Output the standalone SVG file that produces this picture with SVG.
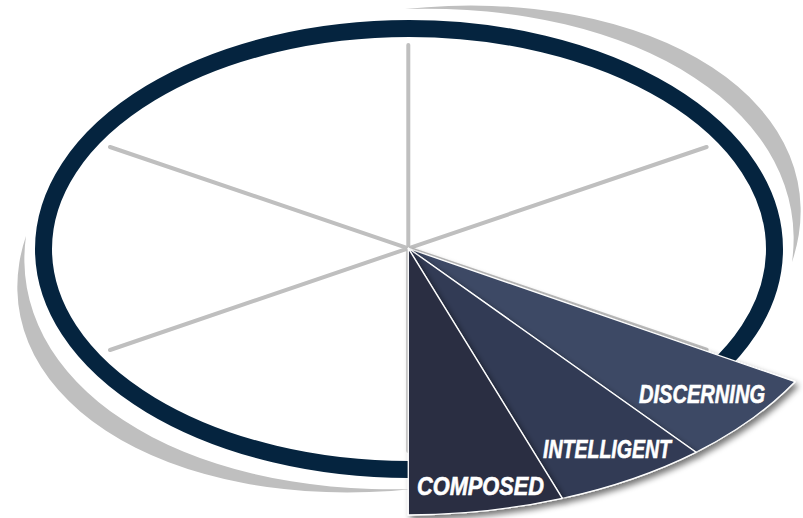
<svg xmlns="http://www.w3.org/2000/svg" width="803" height="518" viewBox="0 0 803 518">
  <defs>
    <style>
      .halo { fill: #BFBFBF; }
      .ring { fill: #FFFFFF; stroke: #05243F; stroke-width: 17; }
      .spoke { stroke: #BFBFBF; stroke-width: 4; stroke-linecap: round; fill: none; }
      .wedge { stroke: #FFFFFF; stroke-width: 1.3; stroke-linejoin: round; filter: url(#drop); }
      .label { font-family: "Liberation Sans", Arial, sans-serif; font-weight: bold; font-style: italic; font-size: 25.5px; fill: #FFFFFF; stroke: #FFFFFF; stroke-width: 0.6; }
    </style>
    <filter id="drop" x="-20%" y="-20%" width="140%" height="140%">
      <feGaussianBlur in="SourceAlpha" stdDeviation="3"/>
      <feOffset dx="3" dy="4" result="blur"/>
      <feComponentTransfer><feFuncA type="linear" slope="0.55"/></feComponentTransfer>
      <feMerge><feMergeNode/><feMergeNode in="SourceGraphic"/></feMerge>
    </filter>
  </defs>

  <!-- grey crescents behind the ring -->
  <g id="halo">
    <path class="halo" d="M405 9 A390 237 -8.4 0 1 792 262 A435 265 -8.4 0 0 405 9 Z"/>
    <path class="halo" d="M413 489 A390 237 -8.4 0 1 26 236 A435 265 -8.4 0 0 413 489 Z"/>
  </g>

  <!-- navy outer ring -->
  <g id="ring">
    <ellipse class="ring" cx="409" cy="249" rx="365.5" ry="220.5"/>
  </g>

  <!-- six spokes from the hub -->
  <g id="spokes">
    <line class="spoke" x1="408.3" y1="248.3" x2="408.3" y2="45"/>
    <line class="spoke" x1="408.3" y1="248.3" x2="408.3" y2="451"/>
    <line class="spoke" x1="408.3" y1="248.3" x2="110" y2="147"/>
    <line class="spoke" x1="408.3" y1="248.3" x2="706.6" y2="349.6"/>
    <line class="spoke" x1="408.3" y1="248.3" x2="110" y2="350"/>
    <line class="spoke" x1="408.3" y1="248.3" x2="706.6" y2="147"/>
  </g>

  <!-- highlighted sector, three wedges -->
  <g id="discerning">
    <path class="wedge" fill="#3C4965" d="M408.3 248.3 L696 452.3 A446.6 266.7 0 0 0 795 381.7 Z"/>
    <text class="label" x="639" y="403" textLength="126" lengthAdjust="spacingAndGlyphs">DISCERNING</text>
  </g>
  <g id="intelligent">
    <path class="wedge" fill="#323B55" d="M408.3 248.3 L562.3 498.3 A446.6 266.7 0 0 0 696 452.3 Z"/>
    <text class="label" x="543" y="458" textLength="128" lengthAdjust="spacingAndGlyphs">INTELLIGENT</text>
  </g>
  <g id="composed">
    <path class="wedge" fill="#2A2F43" d="M408.3 248.3 L408.3 515 A446.6 266.7 0 0 0 562.3 498.3 Z"/>
    <text class="label" x="417" y="495" textLength="127" lengthAdjust="spacingAndGlyphs">COMPOSED</text>
  </g>
</svg>
